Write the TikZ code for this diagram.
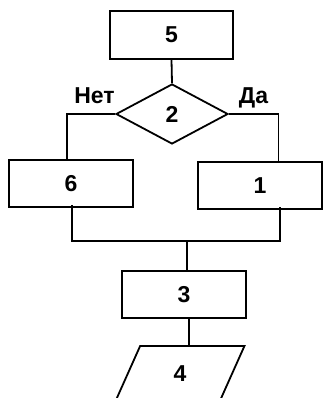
\documentclass[tikz,border=0pt]{standalone}
\usepackage{fontspec}
\setmainfont{Liberation Sans}
\usetikzlibrary{shapes.geometric}
\begin{document}
\begin{tikzpicture}[x=1pt,y=-1pt,
  lw/.style={line width=1.8pt},
  blk/.style={draw, lw, inner sep=0pt, font=\fontsize{23}{27}\selectfont\bfseries},
  stepbox/.style={blk, rectangle, minimum width=124pt, minimum height=47pt},
  decide/.style={blk, diamond, aspect=1.87, minimum width=112pt, minimum height=60pt},
  io/.style={blk, trapezium, trapezium left angle=76, trapezium right angle=104, trapezium stretches=true, minimum width=129pt, minimum height=55pt},
  lbl/.style={inner sep=0pt, anchor=base, font=\fontsize{23}{27}\selectfont\bfseries},
  conn/.style={lw, line join=miter}
]
\useasboundingbox (0,0) rectangle (323,398);
\clip (0,0) rectangle (323,398);
\fill[white] (0,0) rectangle (323,398);

\node[stepbox, minimum width=123pt, minimum height=48pt] (b5) at (171.5,35) {5};
\node[decide] (d2) at (172,114) {2};
\node[stepbox] (b6) at (71,183.5) {6};
\node[stepbox] (b1) at (260,185.5) {1};
\node[stepbox] (b3) at (184,294.5) {3};
\node[io] (p4) at (180,373.5) {4};

\node[lbl] (no) at (94.5,104) {Нет};
\node[lbl] (yes) at (253.5,104) {Да};

\coordinate (jl) at (72,241);
\coordinate (jr) at (280,241);
\coordinate (jm) at (187,241);

\draw[conn] (b5.south) -- (d2.north);
\draw[conn] (d2.west) -| ([xshift=-4pt]b6.north);
\draw[conn] (d2.east) -| ([xshift=18.5pt]b1.north);
\draw[conn] ([xshift=1pt,yshift=3pt]b6.south) -- (jl) -- (jr) -- ([xshift=20pt,yshift=3pt]b1.south);
\draw[conn] (jm) -- ([xshift=3pt]b3.north);
\draw[conn] ([xshift=5pt]b3.south) -- ([xshift=5pt]b3.south |- p4.north);
\end{tikzpicture}
\end{document}
